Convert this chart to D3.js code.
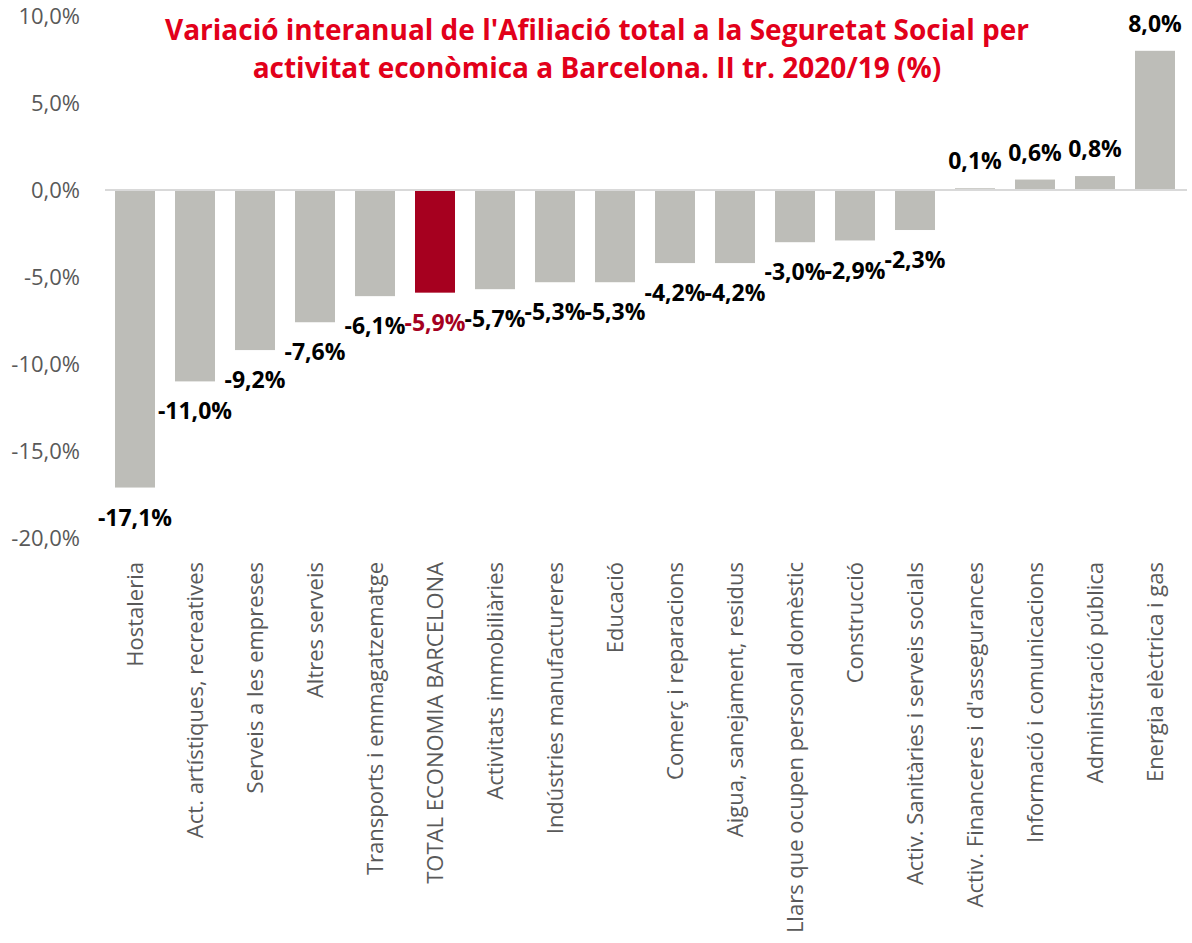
<!DOCTYPE html>
<html><head>
<meta charset="utf-8">
<script src="https://d3js.org/d3.v7.min.js"></script>
<style>
body { margin: 0; background: white; }
text { font-family: "Open Sans", "Noto Sans", sans-serif; }
</style>
</head><body>
<svg id="chart"></svg>
<script>
var categories = ["Hostaleria", "Act. artístiques, recreatives", "Serveis a les empreses", "Altres serveis",
  "Transports i emmagatzematge", "TOTAL ECONOMIA BARCELONA", "Activitats immobiliàries", "Indústries manufactureres",
  "Educació", "Comerç i reparacions", "Aigua, sanejament, residus", "Llars que ocupen personal domèstic",
  "Construcció", "Activ. Sanitàries i serveis socials", "Activ. Financeres i d'assegurances",
  "Informació i comunicacions", "Administració pública", "Energia elèctrica i gas"];
var values = [-17.1, -11.0, -9.2, -7.6, -6.1, -5.9, -5.7, -5.3, -5.3, -4.2, -4.2, -3.0, -2.9, -2.3, 0.1, 0.6, 0.8, 8.0];
var yTicks = [10, 5, 0, -5, -10, -15, -20];
var highlight = "TOTAL ECONOMIA BARCELONA";
var titleLines = ["Variació interanual de l'Afiliació total a la Seguretat Social per",
                  "activitat econòmica a Barcelona. II tr. 2020/19 (%)"];

var width = 1192, height = 943;
var fmt = function(v) { return d3.format(".1f")(v).replace(".", ",").replace("−", "-") + "%"; };

var svg = d3.select("#chart").attr("width", width).attr("height", height);

var x = d3.scaleBand()
    .domain(categories)
    .range([105, 1185])
    .paddingInner(0.3333)
    .paddingOuter(0.1667);

var y = d3.scaleLinear()
    .domain([-20, 10])
    .range([538, 16]);

// y axis labels
svg.append("g").selectAll("text")
    .data(yTicks)
    .enter().append("text")
    .attr("x", 80)
    .attr("y", function(d) { return y(d); })
    .attr("dy", "0.35em")
    .attr("text-anchor", "end")
    .attr("fill", "#595959")
    .style("font-size", "22px")
    .text(fmt);

// bars
svg.append("g").selectAll("rect")
    .data(values)
    .enter().append("rect")
    .attr("x", function(d, i) { return x(categories[i]); })
    .attr("width", x.bandwidth())
    .attr("y", function(d) { return y(Math.max(0, d)); })
    .attr("height", function(d) { return Math.abs(y(d) - y(0)); })
    .attr("fill", function(d, i) { return categories[i] == highlight ? "#a6001f" : "#bdbdb8"; });

// zero line
svg.append("line")
    .attr("x1", 105).attr("x2", 1187)
    .attr("y1", y(0)).attr("y2", y(0))
    .attr("stroke", "#d9d9d9")
    .attr("stroke-width", 2);

// value labels
svg.append("g").selectAll("text")
    .data(values)
    .enter().append("text")
    .attr("x", function(d, i) { return x(categories[i]) + x.bandwidth() / 2; })
    .attr("y", function(d) { return d < 0 ? y(d) + 30 : y(d) - 27; })
    .attr("dy", "0.35em")
    .attr("text-anchor", "middle")
    .attr("fill", function(d, i) { return categories[i] == highlight ? "#a50021" : "#000"; })
    .style("font-size", "23px")
    .style("font-weight", "bold")
    .text(fmt);

// category labels
svg.append("g").selectAll("text")
    .data(categories)
    .enter().append("text")
    .attr("transform", function(d) { return "translate(" + (x(d) + x.bandwidth() / 2) + ",562) rotate(-90)"; })
    .attr("dy", "0.35em")
    .attr("text-anchor", "end")
    .attr("fill", "#595959")
    .style("font-size", "22px")
    .text(function(d) { return d; });

// title
svg.append("g").selectAll("text")
    .data(titleLines)
    .enter().append("text")
    .attr("x", 597)
    .attr("y", function(d, i) { return 30 + i * 38; })
    .attr("dy", "0.35em")
    .attr("text-anchor", "middle")
    .attr("fill", "#e2001a")
    .style("font-size", "28px")
    .style("font-weight", "bold")
    .text(function(d) { return d; });
</script>
</body></html>
